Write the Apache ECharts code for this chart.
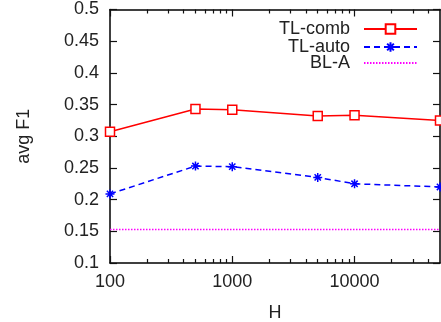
<!DOCTYPE html>
<html>
<head>
<meta charset="utf-8">
<script src="https://cdn.jsdelivr.net/npm/echarts@6/dist/echarts.min.js"></script>
<style>
  html, body { margin: 0; padding: 0; background: #fff; }
  #chart { width: 441px; height: 322px; }
</style>
</head>
<body>
<div id="chart"></div>
<script>
// values
const hValues = [100, 500, 1000, 5000, 10000, 50000];
const tlComb = [0.307, 0.343, 0.342, 0.332, 0.333, 0.325];
const tlAuto = [0.209, 0.253, 0.252, 0.235, 0.225, 0.220];
const blA = [0.153, 0.153, 0.153, 0.153, 0.153, 0.153];
const xMajorTicks = [100, 1000, 10000];
const xMinorTicks = [200, 300, 400, 500, 600, 700, 800, 900,
    2000, 3000, 4000, 5000, 6000, 7000, 8000, 9000, 20000, 30000, 40000];

const font = 'Liberation Sans, Arial, sans-serif';
const fontSize = 18;
const textColor = '#222';
const asterisk = 'path://M0,5L10,5M5,0L5,10M1.5,1.5L8.5,8.5M1.5,8.5L8.5,1.5';

function pairs(ys) {
    return hValues.map((h, i) => [h, ys[i]]);
}

// log axes: one copy for the major ticks, one for the minor ones
function logAxis(position, ticks, len, showLabel, showLine, name) {
    return {
        type: 'log',
        min: 100,
        max: 50000,
        position: position,
        name: name || '',
        nameLocation: 'middle',
        nameGap: 41,
        nameTextStyle: { fontFamily: font, fontSize: fontSize, color: textColor },
        axisLine: { show: showLine, lineStyle: { color: '#000', width: 1.5 } },
        axisTick: { show: true, inside: true, length: len, customValues: ticks, lineStyle: { color: '#111', width: 1.2 } },
        axisLabel: {
            show: showLabel,
            customValues: xMajorTicks,
            margin: 10,
            fontFamily: font,
            fontSize: fontSize,
            color: textColor,
            formatter: v => String(v)
        },
        splitLine: { show: false }
    };
}

function valAxis(position, showLabel, name) {
    return {
        type: 'value',
        min: 0.1,
        max: 0.5,
        interval: 0.05,
        position: position,
        name: name || '',
        nameLocation: 'middle',
        nameGap: 77,
        nameTextStyle: { fontFamily: font, fontSize: fontSize, color: textColor },
        axisLine: { show: true, lineStyle: { color: '#000', width: 1.5 } },
        axisTick: { show: true, inside: true, length: 7, lineStyle: { color: '#111', width: 1.2 } },
        axisLabel: { show: showLabel, margin: 11, fontFamily: font, fontSize: fontSize, color: textColor },
        splitLine: { show: false }
    };
}

function legendFor(item, top) {
    return {
        data: [item],
        right: 23,
        top: top,
        padding: 0,
        align: 'right',
        itemWidth: 53,
        itemHeight: 12,
        selectedMode: false,
        textStyle: { fontFamily: font, fontSize: fontSize, color: textColor, padding: [0, 9, 0, 0] }
    };
}

const chart = echarts.init(document.getElementById('chart'));
chart.setOption({
    animation: false,
    grid: { left: 110, right: 1, top: 9.5, bottom: 59, outerBoundsMode: 'none' },
    legend: [
        legendFor('TL-comb', 20),
        legendFor('TL-auto', 38),
        legendFor({ name: 'BL-A', itemStyle: { opacity: 0 } }, 54)
    ],
    xAxis: [
        logAxis('bottom', xMajorTicks, 7, true, true, 'H'),
        logAxis('bottom', xMinorTicks, 4, false, false),
        logAxis('top', xMajorTicks, 7, false, true),
        logAxis('top', xMinorTicks, 4, false, false)
    ],
    yAxis: [
        valAxis('left', true, 'avg F1'),
        valAxis('right', false)
    ],
    series: [
        {
            name: 'TL-comb',
            type: 'line',
            data: pairs(tlComb),
            symbol: 'rect',
            symbolSize: 9,
            lineStyle: { color: '#ff0000', width: 1.5 },
            itemStyle: { color: '#fff', borderColor: '#ff0000', borderWidth: 1.5 }
        },
        {
            name: 'TL-auto',
            type: 'line',
            data: pairs(tlAuto),
            symbol: asterisk,
            symbolSize: 9,
            lineStyle: { color: '#0000ff', width: 1.5, type: [6, 4] },
            itemStyle: { color: '#0000ff', borderColor: '#0000ff', borderWidth: 1.5 }
        },
        {
            name: 'BL-A',
            type: 'line',
            data: pairs(blA),
            symbol: 'none',
            lineStyle: { color: '#ff00ff', width: 1.5, type: [1.5, 1.5] },
            itemStyle: { color: '#ff00ff' }
        }
    ]
});
</script>
</body>
</html>
